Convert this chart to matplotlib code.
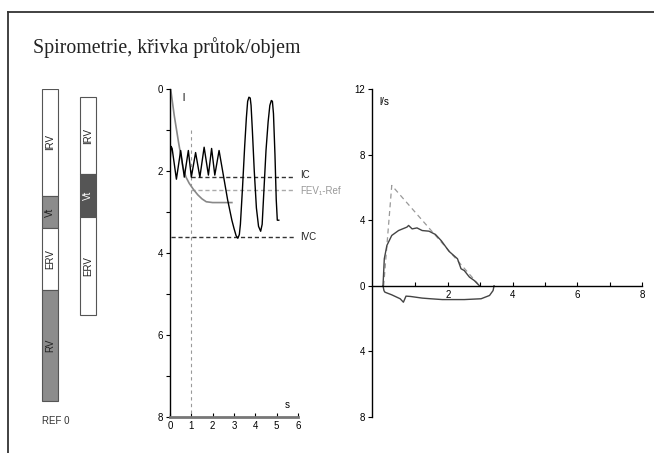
import matplotlib
matplotlib.use("Agg")
import matplotlib.pyplot as plt
from matplotlib.ticker import MultipleLocator, FixedLocator, FuncFormatter
from matplotlib.lines import Line2D

plt.rcParams['font.family'] = ['Liberation Sans', 'DejaVu Sans']
plt.rcParams['font.size'] = 7

# lung volume bars (litres), top to bottom
ref_segments = ["IRV", "Vt", "ERV", "RV"]
ref_values = [2.6, 0.8, 1.5, 2.7]
meas_segments = ["IRV", "Vt", "ERV"]
meas_values = [1.87, 1.05, 2.4]
meas_start = 0.2

# volume / time trace
vt_t = [0.0, 0.05, 0.1, 0.3, 0.5, 0.67, 0.86, 1.0, 1.2, 1.4, 1.6, 1.8, 1.95, 2.1, 2.3,
        2.5, 2.7, 2.9, 3.0, 3.1, 3.18, 3.25, 3.3, 3.4, 3.5, 3.58, 3.64, 3.7, 3.76, 3.8,
        3.86, 3.95, 4.05, 4.15, 4.25, 4.32, 4.4, 4.5, 4.6, 4.68, 4.75, 4.8, 4.85, 4.92,
        4.98, 5.03, 5.1]
vt_v = [1.8, 1.4, 1.45, 2.2, 1.5, 2.15, 1.5, 2.15, 1.55, 2.15, 1.42, 2.1, 1.45, 2.1, 1.5,
        2.1, 2.7, 3.2, 3.4, 3.58, 3.64, 3.55, 3.3, 2.4, 1.4, 0.7, 0.3, 0.2, 0.22, 0.4,
        1.0, 2.0, 2.9, 3.35, 3.47, 3.3, 2.5, 1.5, 0.8, 0.4, 0.28, 0.3, 0.6, 1.6,
        2.7, 3.2, 3.2]

# forced expiration trace
fe_t = [0.03, 0.2, 0.4, 0.6, 0.75, 0.9, 1.1, 1.3, 1.5, 1.7, 2.0, 2.9]
fe_v = [0.0, 0.65, 1.3, 1.9, 2.15, 2.3, 2.45, 2.58, 2.68, 2.75, 2.77, 2.77]

ic_level = 2.15
fev1_ref_level = 2.47
ivc_level = 3.62

# flow / volume loop
fv_x = [0.0, 0.04, 0.12, 0.27, 0.48, 0.74, 0.79, 0.9, 1.05, 1.21, 1.42, 1.62, 1.8, 2.04,
        2.3, 2.41, 2.51, 2.67, 2.82, 2.98]
fv_y = [0.0, 1.65, 2.46, 3.07, 3.37, 3.58, 3.68, 3.47, 3.53, 3.37, 3.33, 3.13, 2.75, 2.1,
        1.65, 1.04, 0.93, 0.53, 0.32, 0.0]
insp_x = [0.0, 0.03, 0.06, 0.27, 0.53, 0.63, 0.71, 0.85, 1.21, 1.47, 1.83, 2.25, 2.51,
          3.03, 3.29, 3.4, 3.43]
insp_y = [0.0, -0.3, -0.39, -0.55, -0.79, -1.0, -0.63, -0.65, -0.75, -0.79, -0.84, -0.84,
          -0.84, -0.79, -0.59, -0.29, 0.0]
pred_x = [0.02, 0.27, 2.93]
pred_y = [0.0, 6.12, 0.12]

fig = plt.figure(figsize=(6.54, 4.53), dpi=100)
W, H = 654.0, 453.0

# page frame
fig.add_artist(Line2D([8 / W, 8 / W], [0, 1 - 12 / H], color="#333333", lw=1.3))
fig.add_artist(Line2D([8 / W, 1], [1 - 12 / H, 1 - 12 / H], color="#333333", lw=1.3))

fig.text(33 / W, 1 - 48 / H, "Spirometrie, křivka průtok/objem", family="Liberation Serif",
         fontsize=14.3, va="center", ha="left", color="#222222")

bottom = 1 - 417 / H
height = (417 - 89) / H

# --- volume bars
axb = fig.add_axes([30 / W, bottom, 80 / W, height])
axb.set_xlim(0, 80)
axb.set_ylim(8, 0)
axb.axis("off")
ref_colors = ["white", "#8c8c8c", "white", "#8c8c8c"]
meas_colors = ["white", "#555555", "white"]
y0 = 0.0
for name, val, c in zip(ref_segments, ref_values, ref_colors):
    axb.bar(20, val, bottom=y0, width=16, color=c, edgecolor="#555555", linewidth=0.8)
    axb.text(20, y0 + val / 2, name, rotation=90, ha="center", va="center", fontsize=7,
             color="#222222")
    y0 += val
y0 = meas_start
for name, val, c in zip(meas_segments, meas_values, meas_colors):
    axb.bar(58, val, bottom=y0, width=16, color=c, edgecolor="#555555", linewidth=0.8)
    axb.text(58, y0 + val / 2, name, rotation=90, ha="center", va="center", fontsize=7,
             color="white" if c == "#555555" else "#222222")
    y0 += val
axb.text(12, 8.1, "REF 0", ha="left", va="center", fontsize=7, color="#333333")

# --- volume / time
ax = fig.add_axes([170 / W, bottom, 128 / W, height])
ax.set_xlim(0, 6)
ax.set_ylim(8, 0)
for s in ("top", "right"):
    ax.spines[s].set_visible(False)
ax.spines["left"].set_linewidth(1.0)
ax.spines["bottom"].set_color("#777777")
ax.spines["bottom"].set_linewidth(2.0)
ax.yaxis.set_major_locator(MultipleLocator(2))
ax.yaxis.set_minor_locator(MultipleLocator(1))
ax.xaxis.set_major_locator(MultipleLocator(1))
ax.tick_params(axis="y", which="both", direction="out", length=3, width=0.8, labelsize=7, pad=2)
ax.tick_params(axis="x", direction="in", length=3, width=0.8, labelsize=7, pad=3)
ax.patch.set_alpha(0)

ax.plot([1, 1], [1.0, 8], color="#999999", lw=0.8, ls=(0, (3, 3)))
ax.plot([1.0, 5.85], [ic_level] * 2, color="#333333", lw=1.0, ls=(0, (3, 2)))
ax.plot([1.0, 5.85], [fev1_ref_level] * 2, color="#aaaaaa", lw=1.0, ls=(0, (3, 2)))
ax.plot([0.05, 5.85], [ivc_level] * 2, color="#333333", lw=1.0, ls=(0, (3, 2)))
ax.plot(fe_t, fe_v, color="#888888", lw=1.2)
ax.plot(vt_t, vt_v, color="black", lw=1.0)
ax.text(6.1, ic_level - 0.05, "IC", va="center", ha="left", fontsize=7, color="#222222")
ax.text(6.1, fev1_ref_level + 0.02, "FEV\u2081-Ref", va="center", ha="left", fontsize=7,
        color="#999999", clip_on=False)
ax.text(6.1, ivc_level, "IVC", va="center", ha="left", fontsize=7, color="#222222")
ax.text(0.6, 0.22, "l", fontsize=7, ha="left", va="center")
ax.text(5.4, 7.7, "s", fontsize=7, ha="left", va="center")

# --- flow / volume (y axis sits a little left of zero volume)
ax2 = fig.add_axes([372 / W, bottom, 270 / W, height])
ax2.set_xlim(-0.34, 8)
ax2.set_ylim(-8, 12)
for s in ("top", "right"):
    ax2.spines[s].set_visible(False)
ax2.spines["bottom"].set_position(("data", 0))
ax2.spines["left"].set_linewidth(1.0)
ax2.spines["bottom"].set_linewidth(1.0)
ax2.yaxis.set_major_locator(FixedLocator([-8, -4, 0, 4, 8, 12]))
ax2.yaxis.set_major_formatter(FuncFormatter(lambda v, p: "%d" % abs(v)))
ax2.xaxis.set_major_locator(FixedLocator([2, 4, 6, 8]))
ax2.xaxis.set_minor_locator(FixedLocator([1, 3, 5, 7]))
ax2.tick_params(axis="y", direction="out", length=3, width=0.8, labelsize=7, pad=2)
ax2.tick_params(axis="x", which="both", direction="in", length=3, width=0.8, labelsize=7, pad=3)
ax2.patch.set_alpha(0)

ax2.plot(pred_x, pred_y, color="#999999", lw=0.9, ls=(0, (4, 3)))
ax2.plot(fv_x, fv_y, color="#444444", lw=1.0)
ax2.plot(insp_x, insp_y, color="#444444", lw=1.0)
ax2.text(-0.1, 11.2, "l/s", fontsize=7, ha="left", va="center")

fig.savefig("out.png", dpi=100)
